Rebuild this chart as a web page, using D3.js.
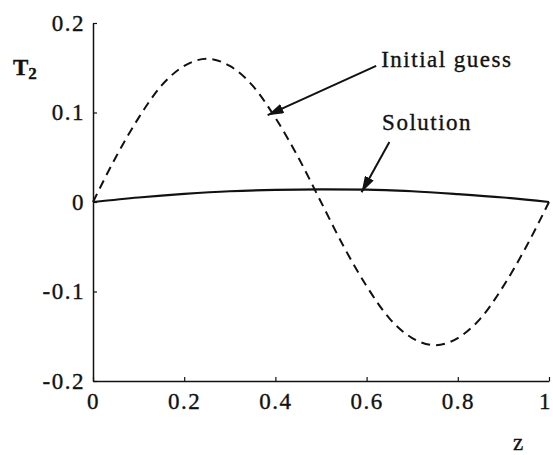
<!DOCTYPE html>
<html><head><meta charset="utf-8">
<script src="https://cdn.jsdelivr.net/npm/d3@7"></script>
<style>body{margin:0;background:#fff}svg{display:block}svg text{font-family:"Liberation Serif","Times New Roman",Times,"DejaVu Serif",serif !important;fill:#111;stroke:#111;stroke-width:0.35px}</style>
</head><body>
<svg id="c" width="553" height="455"></svg>
<script>
const zGuess = [0,0.05,0.1,0.15,0.2,0.25,0.3,0.35,0.4,0.45,0.5,0.55,0.6,0.65,0.7,0.75,0.8,0.85,0.9,0.95,1];
const tGuess = [0,0.05,0.094,0.13,0.152,0.16,0.152,0.13,0.094,0.05,0,-0.05,-0.094,-0.13,-0.152,-0.16,-0.152,-0.13,-0.094,-0.05,0];
const zSol = [0,0.1,0.2,0.3,0.4,0.5,0.6,0.7,0.8,0.9,1];
const tSol = [0,0.005,0.009,0.012,0.0135,0.014,0.0138,0.012,0.0088,0.005,0];
const xTicks = [0,0.2,0.4,0.6,0.8,1];
const yTicks = [-0.2,-0.1,0,0.1,0.2];
const xTickLabels = ["0","0.2","0.4","0.6","0.8","1"];
const yTickLabels = ["-0.2","-0.1","0","0.1","0.2"];
const annLabels = ["Initial guess","Solution"];
const annText = [[0.632,0.151],[0.634,0.080]];
const annTail = [[0.621,0.152],[0.65,0.067]];
const annTip = [[0.383,0.097],[0.589,0.011]];

const svg = d3.select("#c");
const x = d3.scaleLinear().domain([0,1]).range([93,549]);
const y = d3.scaleLinear().domain([-0.2,0.2]).range([381,23]);
const fs = 23, ls = 1.5;
const FF = '"Liberation Serif","Times New Roman",Times,"DejaVu Serif",serif';

const gx = svg.append("g").attr("transform",`translate(0,${y(-0.2)})`)
  .call(d3.axisBottom(x).tickValues(xTicks).tickSizeInner(-4).tickSizeOuter(0).tickFormat((d,i)=>xTickLabels[i]));
gx.attr("font-family",FF).attr("font-size",fs);
gx.select(".domain").attr("stroke","#111").attr("stroke-width",1.5);
gx.selectAll(".tick line").attr("stroke","#111").attr("stroke-width",1.2);
gx.selectAll(".tick text").attr("y",12).attr("dy","0.71em").style("letter-spacing",ls+"px").attr("fill","#111")
  .attr("dx",(d,i)=> i===xTicks.length-1 ? -4 : 0);

const gy = svg.append("g").attr("transform",`translate(${x(0)},0)`)
  .call(d3.axisLeft(y).tickValues(yTicks).tickSizeInner(-4).tickSizeOuter(0).tickFormat((d,i)=>yTickLabels[i]));
gy.attr("font-family",FF).attr("font-size",fs);
gy.select(".domain").attr("stroke","#111").attr("stroke-width",1.5);
gy.selectAll(".tick line").attr("stroke","#111").attr("stroke-width",1.2);
gy.selectAll(".tick text").attr("x",-8).style("letter-spacing",ls+"px").attr("fill","#111");

const tl = svg.append("text").attr("x",13).attr("y",75).attr("font-size",fs).attr("font-weight","bold");
tl.append("tspan").text("T");
tl.append("tspan").attr("dy",4).attr("font-size",17).text("2");
svg.append("text").attr("x",513).attr("y",450).attr("font-size",fs).text("z");

const line = d3.line().x(d=>x(d[0])).y(d=>y(d[1])).curve(d3.curveMonotoneX);
svg.append("path").datum(zGuess.map((z,i)=>[z,tGuess[i]])).attr("d",line)
  .attr("fill","none").attr("stroke","#111").attr("stroke-width",2).attr("stroke-dasharray","9,6");
svg.append("path").datum(zSol.map((z,i)=>[z,tSol[i]])).attr("d",line)
  .attr("fill","none").attr("stroke","#111").attr("stroke-width",2.2);

svg.append("defs").append("marker").attr("id","ah").attr("viewBox","0 0 16 10")
  .attr("refX",16).attr("refY",5).attr("markerWidth",16).attr("markerHeight",10)
  .attr("markerUnits","userSpaceOnUse").attr("orient","auto")
  .append("path").attr("d","M0,0 L16,5 L0,10 Z").attr("fill","#111");
annLabels.forEach((lab,i)=>{
  svg.append("line").attr("x1",x(annTail[i][0])).attr("y1",y(annTail[i][1]))
    .attr("x2",x(annTip[i][0])).attr("y2",y(annTip[i][1]))
    .attr("stroke","#111").attr("stroke-width",2).attr("marker-end","url(#ah)");
  svg.append("text").attr("x",x(annText[i][0])).attr("y",y(annText[i][1]))
    .attr("font-size",fs).style("letter-spacing",ls+"px").text(lab);
});
</script>
</body></html>
